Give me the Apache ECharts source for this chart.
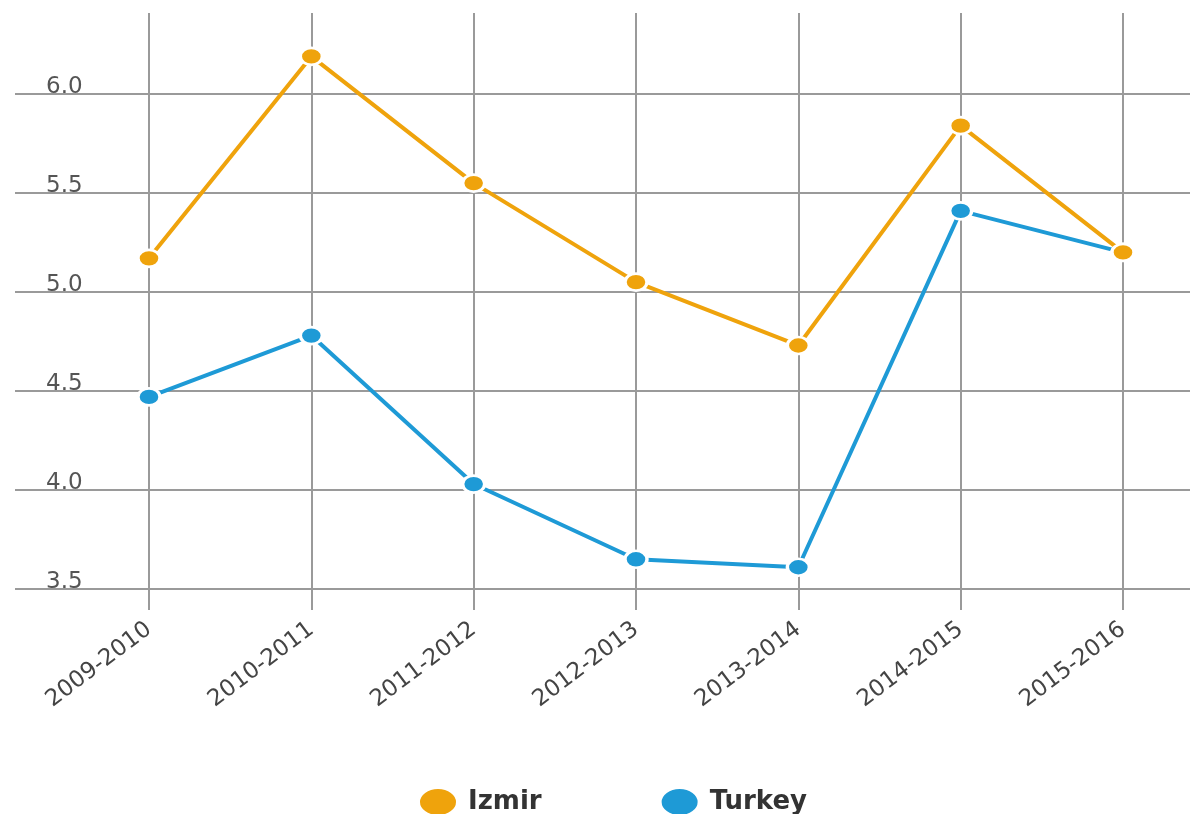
<!DOCTYPE html>
<html>
<head>
<meta charset="utf-8">
<script src="https://cdn.jsdelivr.net/npm/echarts@6/dist/echarts.min.js"></script>
<style>
  html, body { margin: 0; padding: 0; background: #ffffff; }
  #chart { width: 1196px; height: 814px; }
</style>
</head>
<body>
<div id="chart"></div>
<script>
// School years shown along the x axis
const seasons = ['2009-2010', '2010-2011', '2011-2012', '2012-2013', '2013-2014', '2014-2015', '2015-2016'];
// Values per region
const izmirValues = [5.17, 6.19, 5.55, 5.05, 4.73, 5.84, 5.20];
const turkeyValues = [4.47, 4.78, 4.03, 3.65, 3.61, 5.41, 5.20];
// Value axis range and step
const yMin = 3.5;
const yMax = 6.0;
const yStep = 0.5;

const izmirColor = '#EFA30C';
const turkeyColor = '#1E9AD6';
const gridColor = '#9a9a9a';
const font = 'DejaVu Sans';
// flat oval used for the legend keys
const ovalIcon = 'path://M0,13 A19,13 0 1,1 38,13 A19,13 0 1,1 0,13 Z';

const chart = echarts.init(document.getElementById('chart'));

chart.setOption({
  backgroundColor: '#ffffff',
  animation: false,
  grid: [
    // horizontal rules and value labels
    { left: 15, right: 6, top: 94, bottom: 225 },
    // plotted lines
    { left: 149, right: 73, top: 94, bottom: 225 },
    // vertical rules and category labels
    { left: 149, right: 73, top: 13, bottom: 204 }
  ],
  xAxis: [
    { gridIndex: 0, type: 'value', min: 0, max: 1, show: false },
    { gridIndex: 1, type: 'category', data: seasons, boundaryGap: false, show: false },
    {
      gridIndex: 2, type: 'category', data: seasons, boundaryGap: false,
      axisLine: { show: false }, axisTick: { show: false },
      splitLine: { show: true, lineStyle: { color: gridColor, width: 2 } },
      axisLabel: {
        rotate: 37, margin: 17, interval: 0,
        color: '#444', fontFamily: font, fontSize: 23
      }
    }
  ],
  yAxis: [
    {
      gridIndex: 0, type: 'value', min: yMin, max: yMax, interval: yStep,
      axisLine: { show: false }, axisTick: { show: false },
      splitLine: { show: true, lineStyle: { color: gridColor, width: 2 } },
      axisLabel: {
        inside: true, margin: 31, verticalAlign: 'bottom', lineHeight: 13,
        color: '#555', fontFamily: font, fontSize: 23,
        formatter: v => v.toFixed(1)
      }
    },
    { gridIndex: 1, type: 'value', min: yMin, max: yMax, show: false },
    { gridIndex: 2, type: 'value', min: 0, max: 1, show: false }
  ],
  legend: {
    left: 413, top: 782,
    itemWidth: 38, itemHeight: 28, itemGap: 118,
    symbolKeepAspect: false,
    data: [
      { name: 'Izmir', icon: ovalIcon },
      { name: 'Turkey', icon: ovalIcon }
    ],
    textStyle: {
      fontFamily: font, fontWeight: 'bold', fontSize: 26, color: '#333',
      padding: [0, 0, 0, 6]
    }
  },
  series: [
    {
      name: 'Turkey', type: 'line', xAxisIndex: 1, yAxisIndex: 1,
      data: turkeyValues, clip: false,
      symbol: 'circle', symbolSize: [22, 17], symbolKeepAspect: false,
      lineStyle: { color: turkeyColor, width: 4 },
      itemStyle: { color: turkeyColor, borderColor: '#fff', borderWidth: 3 },
      z: 3
    },
    {
      name: 'Izmir', type: 'line', xAxisIndex: 1, yAxisIndex: 1,
      data: izmirValues, clip: false,
      symbol: 'circle', symbolSize: [22, 17], symbolKeepAspect: false,
      lineStyle: { color: izmirColor, width: 4 },
      itemStyle: { color: izmirColor, borderColor: '#fff', borderWidth: 3 },
      z: 4
    }
  ]
});
</script>
</body>
</html>
